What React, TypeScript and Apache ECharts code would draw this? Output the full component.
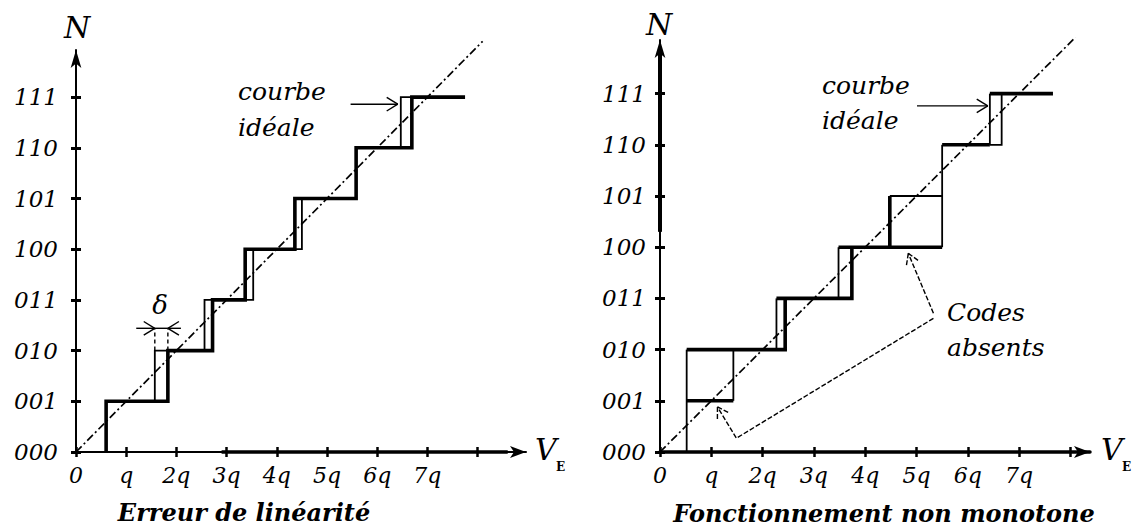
import React, { useEffect, useRef } from "react";
import * as echarts from "echarts";

// ---------- data ----------
const xTickLabels = ["0", "q", "2q", "3q", "4q", "5q", "6q", "7q"];
const yTickLabels = ["000", "001", "010", "011", "100", "101", "110", "111"];
const xTickValues = [0, 1, 2, 3, 4, 5, 6, 7, 8];
const yTickValues = [0, 1, 2, 3, 4, 5, 6, 7];

// left: "Erreur de linéarité"
const leftActualSteps = [0.6, 1.83, 2.72, 3.37, 4.36, 5.58, 6.69];
const leftActualEnd = 7.75;
const leftIdealSteps = [0.6, 1.57, 2.56, 3.53, 4.5, 5.58, 6.47];
const leftIdealEnd = 6.69;
const idealLine = [[0, 0], [8.1, 8.1]];
const leftDeltaGuides = [
  [[1.57, 2], [1.57, 2.44]],
  [[1.83, 2], [1.83, 2.44]],
];
const leftDeltaBar = [[1.57, 2.44], [1.83, 2.44]];
const leftArrowsSolid = [
  [[5.47, 6.86], [6.41, 6.86]],
  [[1.2, 2.44], [1.57, 2.44]],
  [[2.09, 2.44], [1.83, 2.44]],
];
const leftAxisHeavy = [[2.9, 0], [8.6, 0]];

// right: "Fonctionnement non monotone"
const rightThick = [
  [[0.52, 1], [1.43, 1]],
  [[0.52, 2], [2.44, 2], [2.44, 3]],
  [[2.27, 3], [3.74, 3], [3.74, 4]],
  [[3.48, 4], [5.5, 4]],
  [[4.48, 4], [4.48, 5]],
  [[5.5, 6], [6.43, 6]],
  [[6.43, 7], [7.66, 7]],
];
const rightThin = [
  [[0.52, 0], [0.52, 2]],
  [[1.43, 1], [1.43, 2]],
  [[2.27, 2], [2.27, 3]],
  [[3.48, 3], [3.48, 4]],
  [[4.48, 5], [5.5, 5]],
  [[5.5, 4], [5.5, 6]],
  [[6.43, 6], [6.43, 7]],
  [[6.43, 6], [6.66, 6], [6.66, 7]],
];
const rightArrowsSolid = [[[5.01, 6.76], [6.39, 6.76]]];
const rightArrowsDashed = [
  [[5.33, 2.71], [4.84, 3.88]],
  [[5.33, 2.61], [1.49, 0.27], [1.12, 0.88]],
];
const rightAxisHeavy = [[0, 4.3], [0, 7.9]];

const FONT = '"DejaVu Serif"';

function staircase(steps: number[], end: number): number[][] {
  const pts: number[][] = [];
  steps.forEach((s, k) => {
    pts.push([s, k], [s, k + 1]);
  });
  pts.push([end, steps.length]);
  return pts;
}

function polySeries(
  id: string,
  grid: number,
  polys: number[][][],
  width: number,
  dash: number[] | null,
  arrow = false,
  z = 3
) {
  return {
    type: "custom",
    id,
    coordinateSystem: "cartesian2d",
    xAxisIndex: grid * 2,
    yAxisIndex: grid * 2,
    clip: false,
    silent: true,
    z,
    data: polys.map((p) => [p[0][0], p[0][1]]),
    encode: { x: 0, y: 1 },
    renderItem: (params: any, api: any) => {
      const poly = polys[params.dataIndex];
      const pts = poly.map((p) => api.coord(p));
      const children: any[] = [
        {
          type: "polyline",
          shape: { points: pts },
          style: {
            stroke: "#000",
            fill: "none",
            lineWidth: width,
            lineDash: dash || undefined,
          },
        },
      ];
      if (arrow) {
        const [x1, y1] = pts[pts.length - 2];
        const [x2, y2] = pts[pts.length - 1];
        const ang = Math.atan2(y2 - y1, x2 - x1);
        const L = 13;
        for (const s of [-1, 1]) {
          const a = ang + Math.PI + s * 0.55;
          children.push({
            type: "line",
            shape: { x1: x2, y1: y2, x2: x2 + L * Math.cos(a), y2: y2 + L * Math.sin(a) },
            style: { stroke: "#000", lineWidth: 1.4, lineDash: dash || undefined },
          });
        }
      }
      return { type: "group", children };
    },
  };
}

function makeAxes(grid: number, xMax: number, yMax: number, xLine: number, yLine: number, yMargin: number) {
  const tickStyle = { color: "#000", width: 2.5 };
  const xMain = {
    type: "value",
    gridIndex: grid,
    position: "bottom",
    min: 0,
    max: xMax,
    interval: 1,
    axisLine: {
      show: true,
      onZero: false,
      lineStyle: { color: "#000", width: xLine },
      symbol: ["none", "arrow"],
      symbolSize: [9, 16],
    },
    axisTick: { show: true, inside: false, length: 5, lineStyle: tickStyle, customValues: xTickValues },
    axisLabel: {
      show: true,
      customValues: yTickValues,
      formatter: (v: number) => xTickLabels[Math.round(v)] ?? "",
      fontFamily: FONT,
      fontStyle: "italic",
      fontSize: 22,
      color: "#000",
      margin: 12,
    },
    splitLine: { show: false },
  };
  const xInner = {
    type: "value",
    gridIndex: grid,
    position: "bottom",
    min: 0,
    max: xMax,
    interval: 1,
    axisLine: { show: false, onZero: false },
    axisTick: { show: true, inside: true, length: 5, lineStyle: tickStyle, customValues: xTickValues },
    axisLabel: { show: false },
    splitLine: { show: false },
  };
  const yMain = {
    type: "value",
    gridIndex: grid,
    position: "left",
    min: 0,
    max: yMax,
    interval: 1,
    axisLine: {
      show: true,
      onZero: false,
      lineStyle: { color: "#000", width: yLine },
      symbol: ["none", "arrow"],
      symbolSize: [8, 18],
    },
    axisTick: { show: true, inside: false, length: 5, lineStyle: { color: "#000", width: 3 }, customValues: yTickValues },
    axisLabel: {
      show: true,
      customValues: yTickValues,
      formatter: (v: number) => yTickLabels[Math.round(v)] ?? "",
      fontFamily: FONT,
      fontStyle: "italic",
      fontSize: 23,
      color: "#000",
      margin: yMargin,
    },
    splitLine: { show: false },
  };
  const yInner = {
    type: "value",
    gridIndex: grid,
    position: "left",
    min: 0,
    max: yMax,
    interval: 1,
    axisLine: { show: false, onZero: false },
    axisTick: { show: true, inside: true, length: 5, lineStyle: { color: "#000", width: 3 }, customValues: yTickValues },
    axisLabel: { show: false },
    splitLine: { show: false },
  };
  return { x: [xMain, xInner], y: [yMain, yInner] };
}

function txt(text: string, x: number, y: number, font: string, align = "left") {
  return {
    type: "text",
    x,
    y,
    silent: true,
    style: {
      text,
      font,
      fill: "#000",
      align,
      textAlign: align,
      verticalAlign: "middle",
      textVerticalAlign: "middle",
    },
  };
}

export default function App() {
  const ref = useRef<HTMLDivElement>(null);
  useEffect(() => {
    document.body.style.margin = "0";
    if (!ref.current) return;
    const chart = echarts.init(ref.current, null, { renderer: "svg" });
    const L = makeAxes(0, 8.964, 7.929, 2, 2, 18);
    const R = makeAxes(1, 8.382, 8.047, 3.5, 2, 14);

    const italic = (s: number) => `italic ${s}px ${FONT}`;
    const boldItalic = (s: number) => `italic bold ${s}px ${FONT}`;

    chart.setOption({
      animation: false,
      backgroundColor: "#fff",
      grid: [
        { left: 76, top: 50, width: 450, height: 402, outerBoundsMode: "none", containLabel: false },
        { left: 660, top: 40, width: 430, height: 412, outerBoundsMode: "none", containLabel: false },
      ],
      xAxis: [...L.x, ...R.x],
      yAxis: [...L.y, ...R.y],
      series: [
        // left
        polySeries("lIdeal", 0, [idealLine], 1.7, [8, 3, 2, 3]),
        polySeries("lAxisHeavy", 0, [leftAxisHeavy], 3.5, null),
        polySeries("lThin", 0, [staircase(leftIdealSteps, leftIdealEnd)], 1.8, null, false, 4),
        polySeries("lThick", 0, [staircase(leftActualSteps, leftActualEnd)], 3.6, null, false, 5),
        polySeries("lDeltaGuides", 0, leftDeltaGuides, 1.4, [4, 3]),
        polySeries("lDeltaBar", 0, [leftDeltaBar], 1.4, null),
        polySeries("lArrows", 0, leftArrowsSolid, 1.4, null, true),
        // right
        polySeries("rIdeal", 1, [idealLine], 1.7, [8, 3, 2, 3]),
        polySeries("rAxisHeavy", 1, [rightAxisHeavy], 4, null),
        polySeries("rThin", 1, rightThin, 1.8, null, false, 4),
        polySeries("rThick", 1, rightThick, 3.6, null, false, 5),
        polySeries("rArrows", 1, rightArrowsSolid, 1.4, null, true),
        polySeries("rArrowsDashed", 1, rightArrowsDashed, 1.4, [5, 2], true),
      ],
      graphic: [
        txt("N", 77, 27, italic(30), "center"),
        txt("N", 659, 24, italic(30), "center"),
        txt("V", 535, 449, italic(30)),
        txt("E", 556, 467, `bold 12px ${FONT}`),
        txt("V", 1101, 449, italic(30)),
        txt("E", 1122, 467, `bold 12px ${FONT}`),
        txt("courbe", 238, 91, italic(25)),
        txt("idéale", 238, 127, italic(25)),
        txt("courbe", 822, 85, italic(25)),
        txt("idéale", 822, 120, italic(25)),
        txt("Codes", 947, 312, italic(25)),
        txt("absents", 947, 347, italic(25)),
        txt("δ", 160, 305, italic(26), "center"),
        txt("Erreur de linéarité", 244, 512, boldItalic(24), "center"),
        txt("Fonctionnement non monotone", 884, 513, boldItalic(24), "center"),
      ],
    });
    return () => chart.dispose();
  }, []);
  return <div ref={ref} style={{ width: 1135, height: 528 }} />;
}
